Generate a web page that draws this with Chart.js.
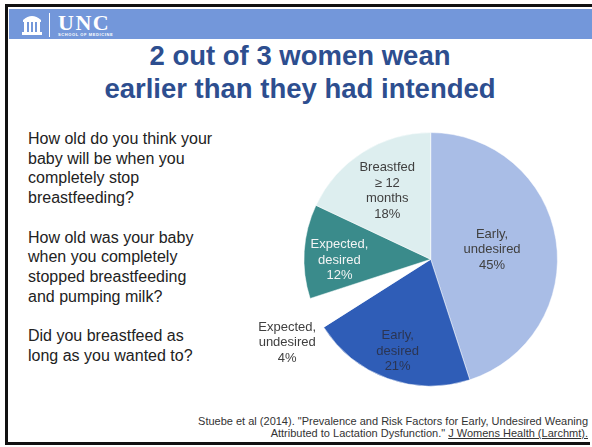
<!DOCTYPE html>
<html>
<head>
<meta charset="utf-8">
<script src="https://cdn.jsdelivr.net/npm/chart.js@4"></script>
<style>
  html, body { margin: 0; padding: 0; background: #fff; }
  body { width: 592px; height: 447px; position: relative; overflow: hidden; font-family: Arial, "Liberation Sans", sans-serif; }
  .frame-top { position: absolute; left: 5px; top: 4px; width: 587px; height: 3px; background: #111; }
  .frame-left { position: absolute; left: 5px; top: 4px; width: 3px; height: 441px; background: #111; }
  .frame-bottom { position: absolute; left: 5px; top: 442px; width: 585px; height: 3px; background: #111; }
  .banner { position: absolute; left: 9px; top: 9px; width: 583px; height: 30px; background: #7397da; }
  .banner svg { position: absolute; left: 12px; top: 4px; }
  .banner .sep { position: absolute; left: 40px; top: 4px; width: 1px; height: 24px; background: #fff; }
  .banner .unc { position: absolute; left: 49px; top: 1px; color: #fff; font: bold 22px "Liberation Serif", "DejaVu Serif", serif; letter-spacing: 1.5px; }
  .banner .school { position: absolute; left: 49px; top: 23px; color: #fff; font: bold 4px Arial, sans-serif; letter-spacing: 0.6px; }
  h1 { position: absolute; left: 0; top: 39px; width: 600px; margin: 0; text-align: center; color: #2d4e8f; font: bold 27.5px/33px Arial, "Liberation Sans", sans-serif; }
  .questions { position: absolute; left: 28px; top: 129px; color: #222; font-size: 16px; line-height: 19.7px; white-space: nowrap; }
  .questions p { margin: 0 0 19.7px 0; }
  .cite { position: absolute; right: 4px; top: 416px; text-align: right; color: #333; font-size: 11px; line-height: 11.6px; white-space: nowrap; }
  .cite u { text-decoration-thickness: 1px; }
  #chartWrap { position: absolute; left: 250px; top: 120px; width: 342px; height: 280px; }
</style>
</head>
<body>
<div class="frame-top"></div>
<div class="frame-left"></div>
<div class="banner">
  <svg width="22" height="22" viewBox="0 0 22 22">
    <path d="M2 7 Q11 -1 20 7 Z" fill="#fff"/>
    <rect x="2" y="7" width="18" height="2" fill="#fff"/>
    <rect x="3" y="9" width="3" height="10" fill="#fff"/>
    <rect x="8" y="9" width="2" height="10" fill="#fff"/>
    <rect x="12" y="9" width="2" height="10" fill="#fff"/>
    <rect x="16" y="9" width="3" height="10" fill="#fff"/>
    <rect x="1" y="19" width="20" height="3" fill="#fff"/>
  </svg>
  <div class="sep"></div>
  <div class="unc">UNC</div>
  <div class="school">SCHOOL OF MEDICINE</div>
</div>

<h1>2 out of 3 women wean<br>earlier than they had intended</h1>

<div class="questions">
  <p>How old do you think your<br>baby will be when you<br>completely stop<br>breastfeeding?</p>
  <p>How old was your baby<br>when you completely<br>stopped breastfeeding<br>and pumping milk?</p>
  <p>Did you breastfeed as<br>long as you wanted to?</p>
</div>

<div id="chartWrap"><canvas id="weanChart"></canvas></div>

<div class="cite">Stuebe et al (2014). "Prevalence and Risk Factors for Early, Undesired Weaning<br>Attributed to Lactation Dysfunction." <u>J Womens Health (Larchmt).</u></div>
<div class="frame-bottom"></div>

<script>
// slices run clockwise from 12 o'clock
const categories = ['Early,\nundesired', 'Early,\ndesired', 'Expected,\nundesired', 'Expected,\ndesired', 'Breastfed\n\u2265 12\nmonths'];
const shares = [45, 21, 4, 12, 18];

const sliceColors = ['#a9bde6', '#2f5db7', '#ffffff', '#3a8b8b', '#ddeeef'];
const labelColors = ['#404040', '#2b3553', '#404040', '#f2f4f4', '#404040'];
// r: fraction of the radius, turn: nudge in degrees
const labelPlacement = [
    { r: 0.49, turn: 0 },
    { r: 0.77, turn: 0 },
    { r: 1.31, turn: -5 },
    { r: 0.72, turn: -4 },
    { r: 0.64, turn: 0 }
];

const sliceLabels = {
    id: 'sliceLabels',
    afterDatasetsDraw(chart) {
        const ctx = chart.ctx;
        const arcs = chart.getDatasetMeta(0).data;
        ctx.save();
        ctx.font = '13px Arial, "Liberation Sans", sans-serif';
        ctx.textAlign = 'center';
        ctx.textBaseline = 'middle';
        arcs.forEach((arc, i) => {
            const place = labelPlacement[i];
            const mid = (arc.startAngle + arc.endAngle) / 2 + place.turn * Math.PI / 180;
            const dist = arc.outerRadius * place.r;
            const x = arc.x + Math.cos(mid) * dist;
            const y = arc.y + Math.sin(mid) * dist;
            const lines = categories[i].split('\n').concat(shares[i] + '%');
            const lh = 15.5;
            const top = y - (lines.length - 1) * lh / 2;
            ctx.fillStyle = labelColors[i];
            lines.forEach((line, k) => ctx.fillText(line, x, top + k * lh));
        });
        ctx.restore();
    }
};

new Chart(document.getElementById('weanChart'), {
    type: 'pie',
    data: {
        labels: categories,
        datasets: [{
            data: shares,
            backgroundColor: sliceColors,
            borderColor: '#ffffff',
            borderWidth: 0.5
        }]
    },
    options: {
        responsive: true,
        maintainAspectRatio: false,
        animation: false,
        layout: { padding: { left: 53.7, right: 34.3, top: 12.3, bottom: 13.7 } },
        plugins: {
            legend: { display: false },
            tooltip: { enabled: false }
        }
    },
    plugins: [sliceLabels]
});
</script>
</body>
</html>
